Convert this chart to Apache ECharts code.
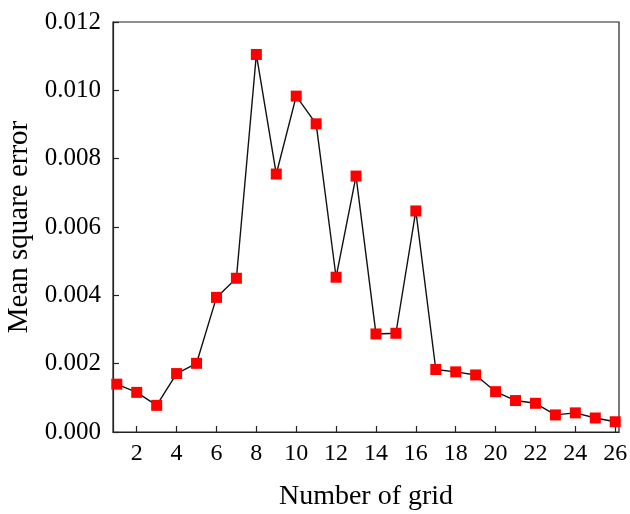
<!DOCTYPE html>
<html>
<head>
<meta charset="utf-8">
<script src="https://cdn.jsdelivr.net/npm/echarts@6/dist/echarts.min.js"></script>
<style>html,body{margin:0;padding:0;background:#fff}#c{width:630px;height:514px}</style>
</head>
<body>
<div id="c"></div>
<script>
const gridNumbers = [1,2,3,4,5,6,7,8,9,10,11,12,13,14,15,16,17,18,19,20,21,22,23,24,25,26];
const mseValues = [0.00140,0.00116,0.00078,0.00171,0.00201,0.00394,0.00450,0.01105,0.00755,0.00983,0.00902,0.00453,0.00749,0.00287,0.00289,0.00647,0.00183,0.00176,0.00167,0.00118,0.00092,0.00084,0.00050,0.00056,0.00041,0.00030];
const xTickValues = [2,4,6,8,10,12,14,16,18,20,22,24,26];

const font = "'Liberation Serif','Times New Roman',serif";
const chart = echarts.init(document.getElementById('c'));
chart.setOption({
  animation:false,
  grid:{left:113,right:11,top:22,bottom:82,outerBoundsMode:'none',containLabel:false,show:true,borderColor:'#222',borderWidth:1.2,backgroundColor:'transparent'},
  xAxis:{
    type:'value',min:0.81,max:26.19,
    name:'Number of grid',nameLocation:'middle',nameGap:51,
    nameTextStyle:{fontFamily:font,fontSize:28,color:'#000'},
    axisLine:{show:true,lineStyle:{color:'#222',width:1.2}},
    axisTick:{show:true,inside:true,length:6,customValues:xTickValues,lineStyle:{color:'#222',width:1.2}},
    axisLabel:{customValues:xTickValues,fontFamily:font,fontSize:24,color:'#000',margin:10},
    splitLine:{show:false}
  },
  yAxis:{
    type:'value',min:0,max:0.012,interval:0.002,
    name:'Mean square error',nameLocation:'middle',nameGap:77,
    nameTextStyle:{fontFamily:font,fontSize:29,color:'#000'},
    axisLine:{show:true,lineStyle:{color:'#222',width:1.2}},
    axisTick:{show:true,inside:true,length:6,lineStyle:{color:'#222',width:1.2}},
    axisLabel:{fontFamily:font,fontSize:25,color:'#000',margin:12,formatter:v=>v.toFixed(3)},
    splitLine:{show:false}
  },
  series:[{
    type:'line',
    data:gridNumbers.map((g,i)=>[g,mseValues[i]]),
    symbol:'rect',symbolSize:11,
    itemStyle:{color:'#ff0000'},
    lineStyle:{color:'#111',width:1.4},
    z:3
  }]
});
</script>
</body>
</html>
